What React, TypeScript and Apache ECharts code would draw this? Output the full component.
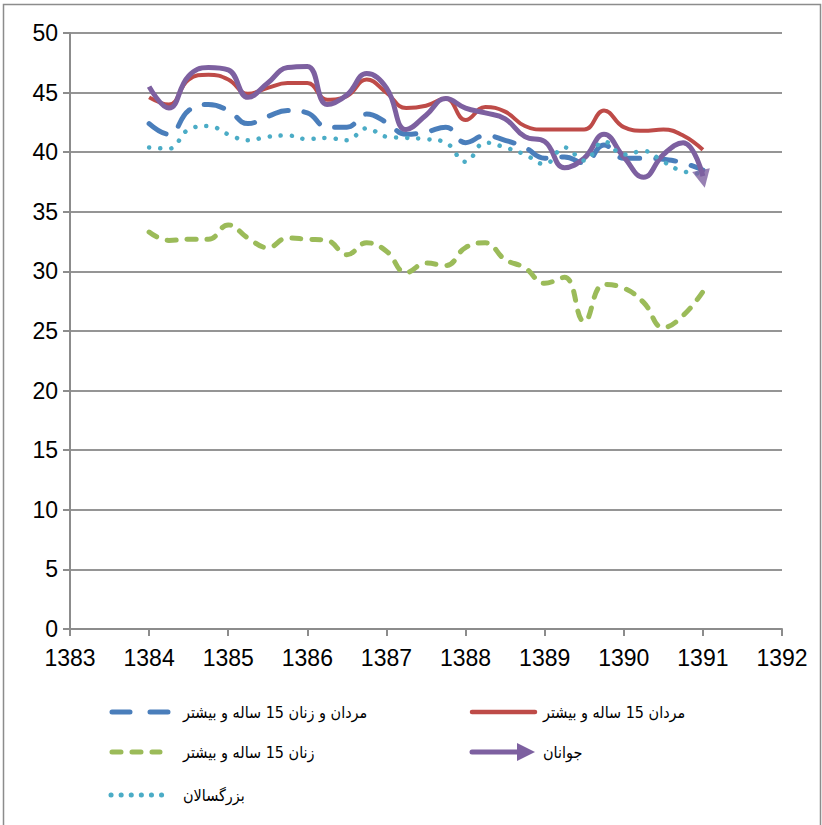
import React, { useEffect, useRef } from "react";
import * as echarts from "echarts";

const quarters = [
  1384, 1384.25, 1384.5, 1384.75, 1385, 1385.25, 1385.5, 1385.75,
  1386, 1386.25, 1386.5, 1386.75, 1387, 1387.25, 1387.5, 1387.75,
  1388, 1388.25, 1388.5, 1388.75, 1389, 1389.25, 1389.5, 1389.75,
  1390, 1390.25, 1390.5, 1390.75, 1391,
];

const allAdults = [
  42.4, 41.5, 43.5, 44.0, 43.5, 42.4, 43.0, 43.5,
  43.3, 42.1, 42.1, 43.2, 42.5, 41.5, 41.7, 42.1,
  40.8, 41.4, 41.0, 40.4, 39.5, 39.6, 39.1, 40.6,
  39.5, 39.5, 39.4, 39.1, 38.5,
];
const men = [
  44.6, 44.0, 46.1, 46.5, 46.1, 44.9, 45.4, 45.8,
  45.8, 44.4, 44.7, 46.1, 45.0, 43.7, 43.9, 44.5,
  42.7, 43.8, 43.4, 42.2, 41.9, 41.9, 41.9, 43.5,
  42.1, 41.8, 41.9, 41.4, 40.2,
];
const women = [
  33.3, 32.6, 32.7, 32.7, 33.9, 32.8, 32.0, 32.8,
  32.7, 32.6, 31.4, 32.4, 31.7, 29.9, 30.7, 30.5,
  32.0, 32.4, 31.0, 30.3, 29.0, 29.5, 25.8, 28.9,
  28.6, 27.4, 25.3, 26.3, 28.3,
];
const youth = [
  45.5, 43.7, 46.4, 47.1, 46.9, 44.6, 45.8, 47.1,
  47.2, 44.0, 44.8, 46.6, 45.4, 41.9, 43.1, 44.5,
  43.7, 43.3, 42.8, 41.3, 40.9, 38.7, 39.5, 41.5,
  39.6, 37.9, 39.8, 40.8, 38.0,
];
const grownups = [
  40.4, 40.3, 41.9, 42.2, 41.5, 41.0, 41.3, 41.4,
  41.1, 41.2, 41.0, 42.0, 41.3, 41.2, 41.1, 40.8,
  39.2, 40.8, 40.4, 39.8, 39.0, 40.4, 39.3, 40.9,
  39.8, 40.1, 39.2, 38.4, 38.2,
];

const seriesNames = [
  "مردان و زنان 15 ساله و بیشتر",
  "مردان 15 ساله و بیشتر",
  "زنان 15 ساله و بیشتر",
  "جوانان",
  "بزرگسالان",
];

const xTicks = [1383, 1384, 1385, 1386, 1387, 1388, 1389, 1390, 1391, 1392];

const BLUE = "#4A7EBB";
const RED = "#BE4B48";
const GREEN = "#9BBB59";
const PURPLE = "#7D60A0";
const TEAL = "#4BACC6";

const pair = (vals: number[]) => vals.map((v, i) => [quarters[i], v]);

export default function App() {
  const ref = useRef<HTMLDivElement>(null);
  useEffect(() => {
    const chart = echarts.init(ref.current!, undefined, { renderer: "svg" });
    const axisFont = "'Liberation Sans', Arial, sans-serif";
    const legendFont = "'DejaVu Sans Condensed', 'DejaVu Sans', sans-serif";
    const lastYouth = youth[youth.length - 1];
    const lastX = quarters[quarters.length - 1];
    const SM = 0.45;
    chart.setOption({
      animation: false,
      backgroundColor: "#ffffff",
      grid: { left: 70, right: 40, top: 33, bottom: 196, containLabel: false },
      xAxis: {
        type: "value",
        min: xTicks[0],
        max: xTicks[xTicks.length - 1],
        interval: 1,
        axisLine: { lineStyle: { color: "#8c8c8c", width: 2 } },
        axisTick: { show: true, length: 7, lineStyle: { color: "#8c8c8c", width: 2 } },
        splitLine: { show: false },
        axisLabel: {
          color: "#000",
          fontSize: 23,
          fontFamily: axisFont,
          margin: 17,
          formatter: (v: number) => String(v),
        },
      },
      yAxis: {
        type: "value",
        min: 0,
        max: 50,
        interval: 5,
        axisLine: { show: true, lineStyle: { color: "#8c8c8c", width: 2 } },
        axisTick: { show: true, length: 7, lineStyle: { color: "#8c8c8c", width: 2 } },
        splitLine: { show: true, lineStyle: { color: "#959595", width: 2 } },
        axisLabel: {
          color: "#000",
          fontSize: 23,
          fontFamily: axisFont,
          margin: 12,
        },
      },
      series: [
        {
          name: seriesNames[0],
          type: "line",
          data: pair(allAdults),
          smooth: SM,
          symbol: "none",
          lineStyle: { color: BLUE, width: 5, type: [20, 16], cap: "round" },
        },
        {
          name: seriesNames[1],
          type: "line",
          data: pair(men),
          smooth: SM,
          symbol: "none",
          lineStyle: { color: RED, width: 4 },
        },
        {
          name: seriesNames[2],
          type: "line",
          data: pair(women),
          smooth: SM,
          symbol: "none",
          lineStyle: { color: GREEN, width: 5, type: [9, 11], cap: "round" },
        },
        {
          name: seriesNames[3],
          type: "line",
          data: pair(youth),
          smooth: SM,
          symbol: "none",
          lineStyle: { color: PURPLE, width: 5 },
        },
        {
          name: seriesNames[3] + "-arrow",
          type: "scatter",
          data: [[lastX, lastYouth]],
          symbol: "triangle",
          symbolSize: [18, 18],
          symbolRotate: 192,
          symbolOffset: [0, 3],
          itemStyle: { color: PURPLE },
          silent: true,
          z: 3,
        },
        {
          name: seriesNames[4],
          type: "line",
          data: pair(grownups),
          smooth: SM,
          symbol: "none",
          lineStyle: { color: TEAL, width: 4.5, type: [0.1, 11], cap: "round" },
        },
      ],
      graphic: [
        {
          type: "rect",
          shape: { x: 3.5, y: 4.5, width: 817, height: 840 },
          style: { fill: "none", stroke: "#8c8c8c", lineWidth: 1.5 },
          silent: true,
        },
        {
          type: "line",
          shape: { x1: 112, y1: 712, x2: 168, y2: 712 },
          style: { stroke: BLUE, lineWidth: 5, lineDash: [18, 20], lineCap: "round" },
        },
        {
          type: "text",
          x: 183,
          y: 712,
          style: { text: seriesNames[0], fill: "#000", font: `16px ${legendFont}`, align: "left", verticalAlign: "middle" },
        },
        {
          type: "line",
          shape: { x1: 472, y1: 712, x2: 535, y2: 712 },
          style: { stroke: RED, lineWidth: 4.5, lineCap: "round" },
        },
        {
          type: "text",
          x: 543,
          y: 712,
          style: { text: seriesNames[1], fill: "#000", font: `16px ${legendFont}`, align: "left", verticalAlign: "middle" },
        },
        {
          type: "line",
          shape: { x1: 112, y1: 752, x2: 160, y2: 752 },
          style: { stroke: GREEN, lineWidth: 5, lineDash: [9, 11], lineCap: "round" },
        },
        {
          type: "text",
          x: 183,
          y: 752,
          style: { text: seriesNames[2], fill: "#000", font: `16px ${legendFont}`, align: "left", verticalAlign: "middle" },
        },
        {
          type: "line",
          shape: { x1: 472, y1: 752, x2: 520, y2: 752 },
          style: { stroke: PURPLE, lineWidth: 5, lineCap: "round" },
        },
        {
          type: "polygon",
          shape: { points: [[517, 743], [535, 752], [517, 761]] },
          style: { fill: PURPLE },
        },
        {
          type: "text",
          x: 543,
          y: 752,
          style: { text: seriesNames[3], fill: "#000", font: `16px ${legendFont}`, align: "left", verticalAlign: "middle" },
        },
        {
          type: "line",
          shape: { x1: 111, y1: 795, x2: 162, y2: 795 },
          style: { stroke: TEAL, lineWidth: 5, lineDash: [0.1, 10], lineCap: "round" },
        },
        {
          type: "text",
          x: 183,
          y: 795,
          style: { text: seriesNames[4], fill: "#000", font: `16px ${legendFont}`, align: "left", verticalAlign: "middle" },
        },
      ],
    });
    return () => chart.dispose();
  }, []);
  return (
    <div
      ref={ref}
      style={{ position: "fixed", left: 0, top: 0, width: 822, height: 825, background: "#fff" }}
    />
  );
}
